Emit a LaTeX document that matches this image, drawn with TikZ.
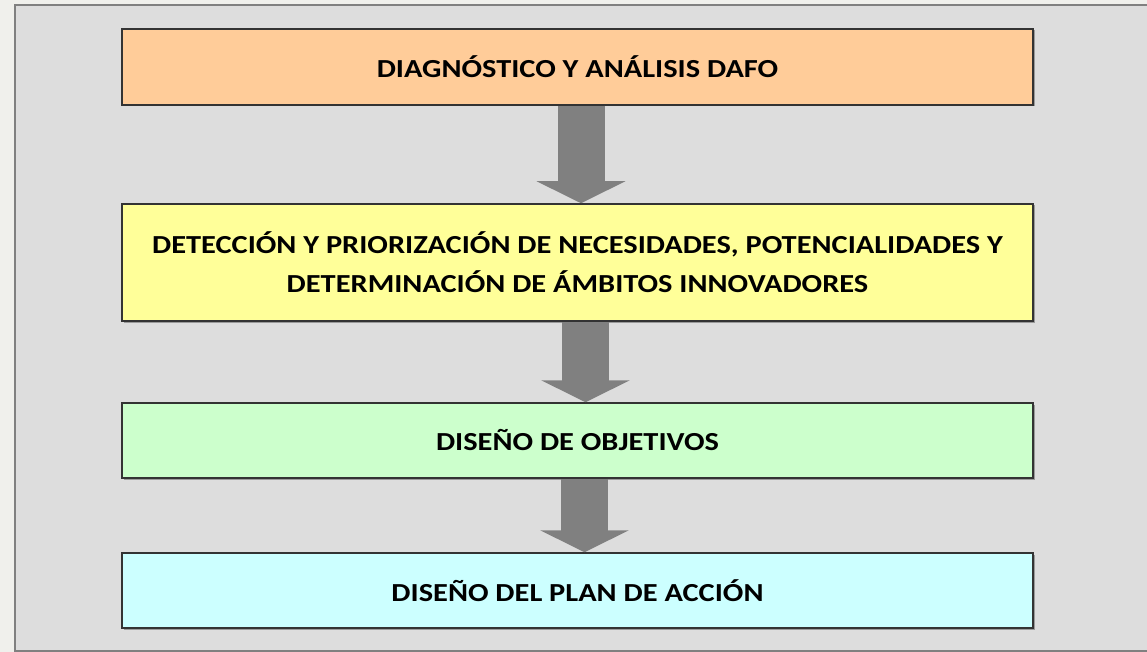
\documentclass[tikz,border=0pt]{standalone}
\usepackage{fontspec}
\setmainfont{Carlito}[FakeStretch=1.17]
\usetikzlibrary{arrows.meta,shadows}
\definecolor{fondo}{HTML}{F0F0EC}
\definecolor{hoja}{HTML}{DDDDDD}
\definecolor{gris}{HTML}{808080}
\definecolor{naranja}{HTML}{FFCC99}
\definecolor{amarillo}{HTML}{FFFF99}
\definecolor{verde}{HTML}{CCFFCC}
\definecolor{turquesa}{HTML}{CCFFFF}
\begin{document}
\begin{tikzpicture}[x=1pt,y=-1pt,font=\bfseries\fontsize{26}{39}\selectfont,
  caja/.style={draw=black!80,line width=1.5pt,minimum width=911pt,inner sep=0pt,align=center,
    drop shadow={shadow xshift=1.5pt,shadow yshift=-1.5pt,fill=black,opacity=.3}},
  flecha/.style={draw=gris,line width=47pt,-{Triangle[length=22pt,width=88pt]}}]

\useasboundingbox (0,0) rectangle (1147,652);
\fill[fondo] (0,0) rectangle (1147,652);
\draw[gris,line width=2pt,fill=hoja] (15,5) rectangle (1160,651);

\node[caja,fill=naranja,minimum height=76pt] (dafo) at (577.5,67) {DIAGNÓSTICO Y ANÁLISIS DAFO};
\node[caja,fill=amarillo,minimum height=117pt] (necesidades) at (577.5,262.5)
  {DETECCIÓN Y PRIORIZACIÓN DE NECESIDADES, POTENCIALIDADES Y\\DETERMINACIÓN DE ÁMBITOS INNOVADORES};
\node[caja,fill=verde,minimum height=75pt] (objetivos) at (577.5,440.5) {DISEÑO DE OBJETIVOS};
\node[caja,fill=turquesa,minimum height=75pt] (plan) at (577.5,590.5) {DISEÑO DEL PLAN DE ACCIÓN};

\draw[flecha] ([xshift=3.5pt]dafo.south) -- ([xshift=3.5pt]necesidades.north);
\draw[flecha] ([xshift=8pt]necesidades.south) -- ([xshift=8pt]objetivos.north);
\draw[flecha] ([xshift=7pt]objetivos.south) -- ([xshift=7pt]plan.north);

\end{tikzpicture}
\end{document}
